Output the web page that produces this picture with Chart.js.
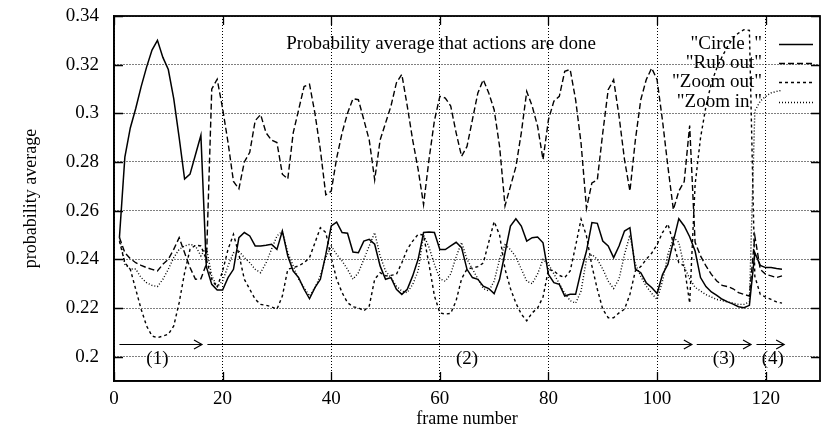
<!DOCTYPE html>
<html>
<head>
<meta charset="utf-8">
<script src="https://cdn.jsdelivr.net/npm/chart.js@4.4.1/dist/chart.umd.min.js"></script>
<style>
  html, body { margin: 0; padding: 0; background: #fff; }
</style>
</head>
<body>
<canvas id="chart" width="822" height="430"></canvas>
<script>
// frame numbers 1..123 on the x axis
const frames = Array.from({ length: 123 }, (_, i) => i + 1);

const circle = [
  0.249, 0.282, 0.294, 0.302, 0.311, 0.319, 0.326, 0.330, 0.323, 0.318,
  0.306, 0.290, 0.273, 0.275, 0.283, 0.291, 0.237, 0.2297, 0.2274, 0.2274,
  0.2325, 0.2359, 0.2489, 0.251, 0.2496, 0.2455, 0.2455, 0.2458, 0.2462, 0.2441,
  0.2516, 0.2414, 0.2352, 0.2325, 0.2277, 0.2238, 0.2284, 0.2318, 0.242, 0.2537,
  0.2553, 0.251, 0.2507, 0.243, 0.2427, 0.2475, 0.2482, 0.2462, 0.2373, 0.2318,
  0.2325, 0.2277, 0.2256, 0.2277, 0.2332, 0.240, 0.251, 0.2512, 0.251, 0.244,
  0.244, 0.2455, 0.247, 0.2448, 0.2359, 0.2325, 0.2318, 0.229, 0.228, 0.2259,
  0.2318, 0.2427, 0.2537, 0.2567, 0.2537, 0.2475, 0.2489, 0.2492, 0.2468, 0.2338,
  0.2304, 0.2297, 0.2249, 0.2256, 0.2256, 0.2352, 0.2434, 0.2551, 0.2548, 0.2475,
  0.2455, 0.2407, 0.2455, 0.2516, 0.253, 0.236, 0.2345, 0.2304, 0.2284, 0.226,
  0.2338, 0.238, 0.2475, 0.2567, 0.2537, 0.2493, 0.2434, 0.2325, 0.2288, 0.2266,
  0.2252, 0.2236, 0.2225, 0.2216, 0.2205, 0.2201, 0.2211, 0.2427, 0.2375, 0.2366,
  0.2366, 0.2362, 0.2359
];

const rubOut = [
  0.249, 0.2427, 0.2403, 0.2386, 0.2375, 0.2366, 0.2359, 0.2352, 0.238, 0.240,
  0.2441, 0.2489, 0.2427, 0.2366, 0.2318, 0.232, 0.238, 0.310, 0.314, 0.302,
  0.288, 0.272, 0.269, 0.280, 0.284, 0.297, 0.2995, 0.292, 0.289, 0.288,
  0.275, 0.273, 0.292, 0.3015, 0.311, 0.312, 0.300, 0.285, 0.2665, 0.268,
  0.2816, 0.292, 0.300, 0.306, 0.3056, 0.2974, 0.289, 0.2727, 0.289, 0.296,
  0.303, 0.3125, 0.316, 0.303, 0.289, 0.277, 0.2625, 0.281, 0.297, 0.307,
  0.3063, 0.303, 0.292, 0.2823, 0.2864, 0.2974, 0.3084, 0.3138, 0.3084, 0.3015,
  0.2864, 0.262, 0.270, 0.278, 0.292, 0.309, 0.303, 0.2947, 0.281, 0.2974,
  0.305, 0.307, 0.3173, 0.318, 0.3056, 0.2878, 0.261, 0.2714, 0.2727, 0.292,
  0.3097, 0.3138, 0.2988, 0.281, 0.268, 0.289, 0.3056, 0.3138, 0.3186, 0.3138,
  0.297, 0.278, 0.2604, 0.268, 0.272, 0.295, 0.247, 0.2414, 0.2373, 0.2338,
  0.2311, 0.2293, 0.2288, 0.2279, 0.2263, 0.2256, 0.2249, 0.2496, 0.2359, 0.2338,
  0.2332, 0.2325, 0.2332
];

const zoomOut = [
  0.2475, 0.2386, 0.2359, 0.2277, 0.2195, 0.2126, 0.2085, 0.2078, 0.2085, 0.2092,
  0.2126, 0.2222, 0.2345, 0.2441, 0.2458, 0.2455, 0.240, 0.2318, 0.2284, 0.2352,
  0.2441, 0.2503, 0.242, 0.2318, 0.2277, 0.2236, 0.2215, 0.2211, 0.2205, 0.2195,
  0.2249, 0.2359, 0.2366, 0.2373, 0.2386, 0.2407, 0.2468, 0.253, 0.251, 0.2407,
  0.2318, 0.2263, 0.2222, 0.2205, 0.2201, 0.2188, 0.2208, 0.2318, 0.2345, 0.2332,
  0.2334, 0.2338, 0.2386, 0.2441, 0.2475, 0.2503, 0.250, 0.238, 0.225, 0.218,
  0.2175, 0.2178, 0.223, 0.232, 0.236, 0.2365, 0.237, 0.2385, 0.247, 0.2555,
  0.250, 0.236, 0.228, 0.222, 0.2175, 0.2147, 0.218, 0.220, 0.2245, 0.2359,
  0.2352, 0.2334, 0.2325, 0.2352, 0.2455, 0.2565, 0.2496, 0.2373, 0.2277, 0.2195,
  0.216, 0.216, 0.218, 0.2195, 0.2256, 0.2352, 0.237, 0.240, 0.2425, 0.246,
  0.251, 0.2545, 0.2468, 0.2386, 0.2373, 0.222, 0.2707, 0.2899, 0.3029, 0.3125,
  0.3186, 0.3234, 0.3275, 0.331, 0.333, 0.3344, 0.3341, 0.233, 0.2256, 0.2245,
  0.2235, 0.2225, 0.222
];

const zoomIn = [
  0.249, 0.238, 0.236, 0.236, 0.2325, 0.2304, 0.2293, 0.2288, 0.2318, 0.2359,
  0.2407, 0.2441, 0.2455, 0.2462, 0.2455, 0.2414, 0.245, 0.2332, 0.2288, 0.2311,
  0.2373, 0.2427, 0.2434, 0.2407, 0.2386, 0.2359, 0.2345, 0.2386, 0.2441, 0.2496,
  0.2516, 0.2427, 0.2373, 0.2318, 0.2284, 0.2249, 0.2284, 0.2332, 0.2407, 0.2455,
  0.242, 0.2393, 0.2359, 0.2318, 0.2345, 0.240, 0.2455, 0.251, 0.2414, 0.2352,
  0.2325, 0.229, 0.227, 0.2263, 0.2297, 0.2352, 0.250, 0.245, 0.238, 0.232,
  0.231, 0.234, 0.241, 0.247, 0.240, 0.236, 0.232, 0.228, 0.227, 0.231,
  0.240, 0.246, 0.244, 0.241, 0.236, 0.231, 0.230, 0.234, 0.240, 0.238,
  0.234, 0.230, 0.226, 0.223, 0.222, 0.227, 0.240, 0.242, 0.240, 0.236,
  0.231, 0.228, 0.232, 0.242, 0.250, 0.238, 0.233, 0.229, 0.226, 0.2235,
  0.231, 0.242, 0.249, 0.247, 0.237, 0.232, 0.2285, 0.227, 0.2255, 0.2245,
  0.2235, 0.223, 0.2225, 0.222, 0.2215, 0.2215, 0.2225, 0.301, 0.305, 0.307,
  0.3084, 0.309, 0.3095
];

const xTicks = [0, 20, 40, 60, 80, 100, 120];
const yTicks = [0.2, 0.22, 0.24, 0.26, 0.28, 0.3, 0.32, 0.34];

// phases marked with arrows under the curves
const phaseStart = [1, 17.2, 107.3, 118.3];
const phaseEnd = [16.2, 106.4, 117.3, 123.4];
const phaseLabelX = [8, 65, 112.3, 121.3];
const phaseLabels = ["(1)", "(2)", "(3)", "(4)"];
const arrowY = 0.205;
const phaseLabelY = 0.199;

const SERIF = "'Liberation Serif', 'Times New Roman', serif";
const pts = arr => arr.map((v, i) => ({ x: frames[i], y: v }));

const decor = {
  id: "decor",
  afterDatasetsDraw(chart) {
    const { ctx, chartArea: a, scales: { x, y } } = chart;
    ctx.save();
    ctx.strokeStyle = "#000";
    ctx.fillStyle = "#000";
    ctx.setLineDash([]);

    // inward tick marks, mirrored like gnuplot
    ctx.lineWidth = 1.3;
    ctx.beginPath();
    xTicks.forEach(v => {
      const px = Math.round(x.getPixelForValue(v)) + 0.5;
      ctx.moveTo(px, a.bottom); ctx.lineTo(px, a.bottom - 9);
      ctx.moveTo(px, a.top); ctx.lineTo(px, a.top + 9);
    });
    yTicks.forEach(v => {
      const py = Math.round(y.getPixelForValue(v)) + 0.5;
      ctx.moveTo(a.left, py); ctx.lineTo(a.left + 9, py);
      ctx.moveTo(a.right, py); ctx.lineTo(a.right - 9, py);
    });
    ctx.stroke();

    // frame
    ctx.lineWidth = 1.8;
    ctx.strokeRect(a.left, a.top, a.right - a.left, a.bottom - a.top);

    // phase arrows
    ctx.lineWidth = 1.2;
    const ay = y.getPixelForValue(arrowY);
    phaseStart.forEach((s, i) => {
      const x0 = x.getPixelForValue(s);
      const x1 = x.getPixelForValue(phaseEnd[i]);
      ctx.beginPath();
      ctx.moveTo(x0, ay); ctx.lineTo(x1, ay);
      ctx.moveTo(x1 - 8, ay - 4.5); ctx.lineTo(x1, ay); ctx.lineTo(x1 - 8, ay + 4.5);
      ctx.stroke();
    });
    ctx.font = "19px " + SERIF;
    ctx.textAlign = "center";
    ctx.textBaseline = "middle";
    phaseLabels.forEach((t, i) => {
      ctx.fillText(t, x.getPixelForValue(phaseLabelX[i]), y.getPixelForValue(phaseLabelY));
    });

    // title inside the plot
    ctx.fillText("Probability average that actions are done", a.left + 327, a.top + 28);

    // key, text right-aligned, sample to the right
    ctx.font = "19px " + SERIF;
    ctx.textAlign = "right";
    chart.data.datasets.forEach((ds, i) => {
      const ry = a.top + 28 + i * 19.2;
      ctx.fillText(ds.label, a.right - 58, ry);
      ctx.lineWidth = 1.3;
      ctx.setLineDash(ds.borderDash || []);
      ctx.beginPath();
      ctx.moveTo(a.right - 41, Math.round(ry) + 0.5);
      ctx.lineTo(a.right - 7, Math.round(ry) + 0.5);
      ctx.stroke();
      ctx.setLineDash([]);
    });
    ctx.restore();
  }
};

new Chart(document.getElementById("chart"), {
  type: "line",
  data: {
    datasets: [
      { label: '"Circle  "', data: pts(circle), borderColor: "#000", borderWidth: 1.5, borderDash: [] },
      { label: '"Rub out"', data: pts(rubOut), borderColor: "#000", borderWidth: 1.4, borderDash: [6, 3] },
      { label: '"Zoom out"', data: pts(zoomOut), borderColor: "#000", borderWidth: 1.4, borderDash: [3, 3] },
      { label: '"Zoom in "', data: pts(zoomIn), borderColor: "#000", borderWidth: 1.4, borderDash: [1, 2] }
    ]
  },
  options: {
    responsive: false,
    animation: false,
    devicePixelRatio: 1,
    layout: { padding: { left: 0, right: 2, top: 16, bottom: 0 } },
    elements: { point: { radius: 0 }, line: { tension: 0, fill: false } },
    plugins: { legend: { display: false }, tooltip: { enabled: false } },
    scales: {
      x: {
        type: "linear",
        min: 0,
        max: 130,
        afterBuildTicks: s => { s.ticks = xTicks.map(v => ({ value: v })); },
        afterFit: s => { s.height = 49; s.paddingLeft = 0; s.paddingRight = 0; },
        ticks: { color: "#000", font: { family: SERIF, size: 19 }, padding: 7, maxRotation: 0, autoSkip: false },
        grid: { color: "#000", lineWidth: 1, drawTicks: false },
        border: { display: true, color: "#000", width: 1.5, dash: [1, 2] },
        title: { display: true, text: "frame number", color: "#000", font: { family: SERIF, size: 18 }, padding: { top: 0, bottom: 0 } }
      },
      y: {
        min: 0.19,
        max: 0.34,
        afterBuildTicks: s => { s.ticks = yTicks.map(v => ({ value: v })); },
        afterFit: s => { s.width = 114; s.paddingTop = 0; s.paddingBottom = 0; },
        ticks: { color: "#000", font: { family: SERIF, size: 19 }, padding: 15, callback: v => String(+v.toFixed(2)) },
        grid: { color: "#000", lineWidth: 1, drawTicks: false },
        border: { display: true, color: "#000", width: 1.5, dash: [1, 2] },
        title: { display: true, text: "probability average", color: "#000", font: { family: SERIF, size: 18 }, padding: { top: 20, bottom: 0 } }
      }
    }
  },
  plugins: [decor]
});
</script>
</body>
</html>
